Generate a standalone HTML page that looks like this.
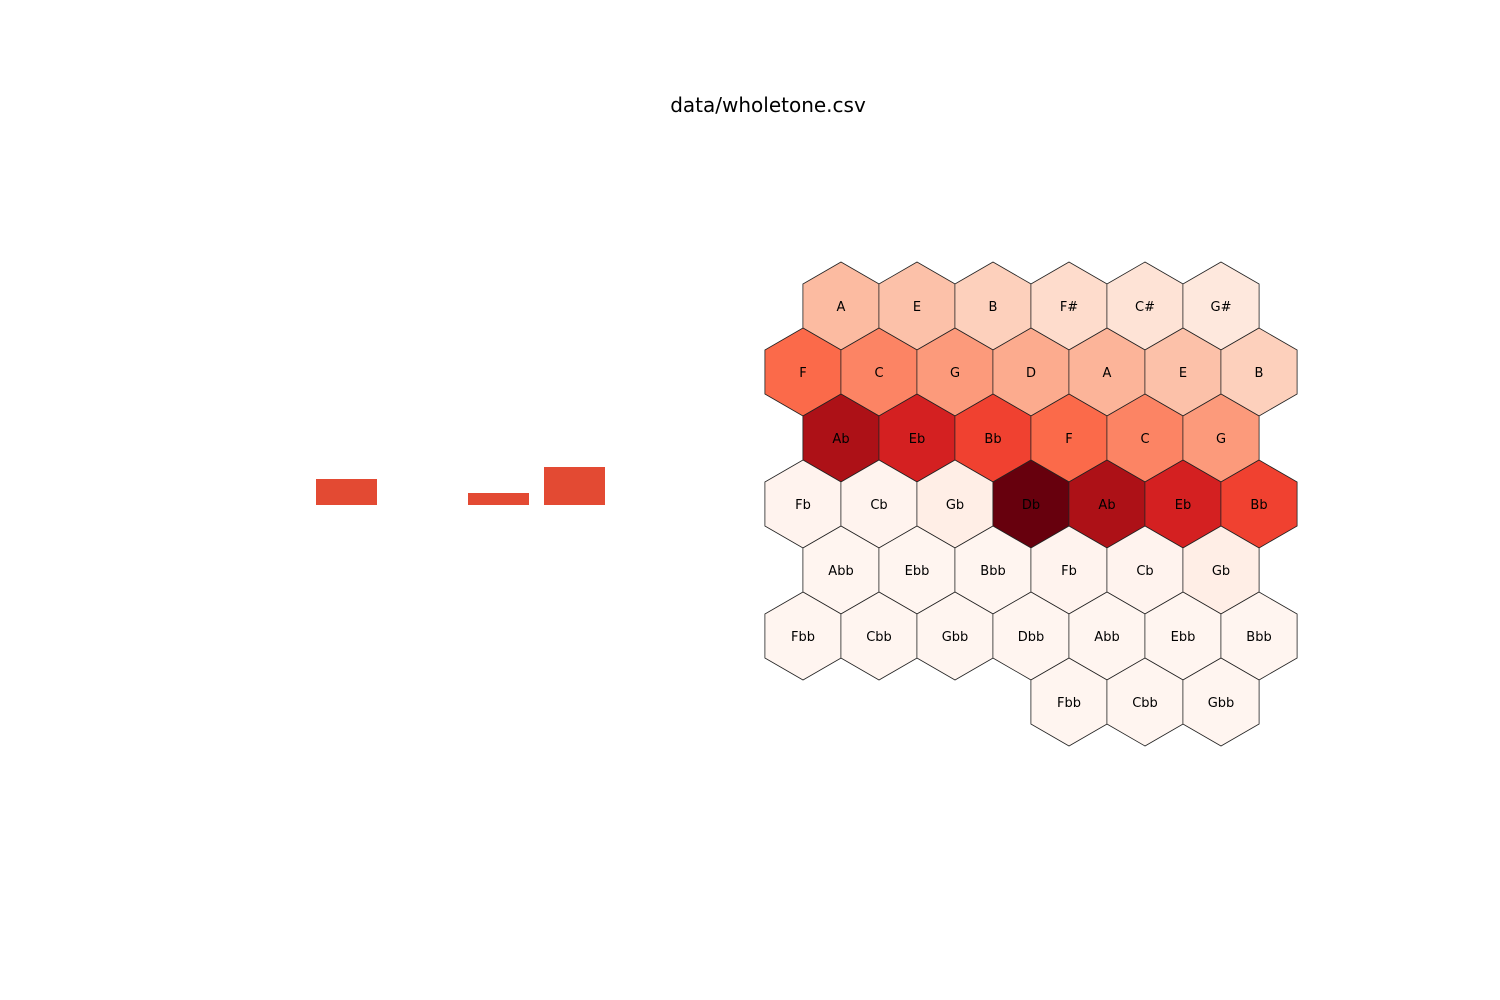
<!DOCTYPE html>
<html><head><meta charset="utf-8"><style>
html,body{margin:0;padding:0;background:#fff;}
svg{display:block;font-family:"DejaVu Sans","Liberation Sans",sans-serif;}
</style></head><body>
<svg id="chart" width="1500" height="1000">
<text x="768" y="112" text-anchor="middle" font-size="20" fill="#000">data/wholetone.csv</text>
<g id="bars"></g>
<g id="hexes"></g>
</svg>
<script>
// bar chart data
const barCategories = ["b1","b2","b3","b4"];
const barValues = [26, 0, 12, 38];
// hex grid data: rows of note labels and intensity values (0..1)
const hexRowLabels = [
 ["A","E","B","F#","C#","G#"],
 ["F","C","G","D","A","E","B"],
 ["Ab","Eb","Bb","F","C","G"],
 ["Fb","Cb","Gb","Db","Ab","Eb","Bb"],
 ["Abb","Ebb","Bbb","Fb","Cb","Gb"],
 ["Fbb","Cbb","Gbb","Dbb","Abb","Ebb","Bbb"],
 ["Fbb","Cbb","Gbb"]
];
const hexRowValues = [
 [0.25,0.23,0.18,0.14,0.11,0.08],
 [0.5,0.42,0.35,0.3,0.27,0.23,0.18],
 [0.85,0.72,0.61,0.5,0.42,0.35],
 [0.01,0.01,0.04,1.0,0.85,0.72,0.61],
 [0,0,0,0.01,0.01,0.04],
 [0,0,0,0,0,0,0],
 [0,0,0]
];
const hexRowStartCol = [1,0,1,0,1,0,7];

const NS="http://www.w3.org/2000/svg";
const reds=["#fff5f0","#fee0d2","#fcbba1","#fc9272","#fb6a4a","#ef3b2c","#cb181d","#a50f15","#67000d"];
function hexToRgb(h){return [1,3,5].map(i=>parseInt(h.substr(i,2),16));}
function cmap(v){v=Math.max(0,Math.min(1,v));const t=v*8,i=Math.min(7,Math.floor(t)),f=t-i;
 const a=hexToRgb(reds[i]),b=hexToRgb(reds[i+1]);
 return "rgb("+a.map((c,k)=>Math.round(c+(b[k]-c)*f)).join(",")+")";}

// bars
const barG=document.getElementById("bars");
const barX=i=>316+i*76, barW=61, baseY=505, barScale=v=>v;
barValues.forEach((v,i)=>{
 if(v<=0) return;
 const r=document.createElementNS(NS,"rect");
 r.setAttribute("x",barX(i));r.setAttribute("y",baseY-barScale(v));
 r.setAttribute("width",barW);r.setAttribute("height",barScale(v));
 r.setAttribute("fill","#e34a33");
 
 
 barG.appendChild(r);
});

// hexes
const hexG=document.getElementById("hexes");
const R=44, colW=76, rowH=66, y0=306;
hexRowLabels.forEach((row,ri)=>{
 row.forEach((lab,k)=>{
  let x;
  if(hexRowStartCol[ri]===7) x=1069+k*colW;
  else x=(hexRowStartCol[ri]?841:803)+k*colW;
  const y=y0+ri*rowH;
  const pts=[];
  for(let a=0;a<6;a++){const ang=Math.PI/180*(60*a-90);pts.push((x+R*Math.cos(ang)).toFixed(1)+","+(y+R*Math.sin(ang)).toFixed(1));}
  const p=document.createElementNS(NS,"polygon");
  p.setAttribute("points",pts.join(" "));
  p.setAttribute("fill",cmap(hexRowValues[ri][k]));
  p.setAttribute("stroke","#222");p.setAttribute("stroke-width","0.8");
  
  
  hexG.appendChild(p);
  const t=document.createElementNS(NS,"text");
  t.setAttribute("x",x);t.setAttribute("y",y+5);
  t.setAttribute("text-anchor","middle");t.setAttribute("font-size","13");
  t.textContent=lab;
  
  
  hexG.appendChild(t);
 });
});
</script>
</body></html>
